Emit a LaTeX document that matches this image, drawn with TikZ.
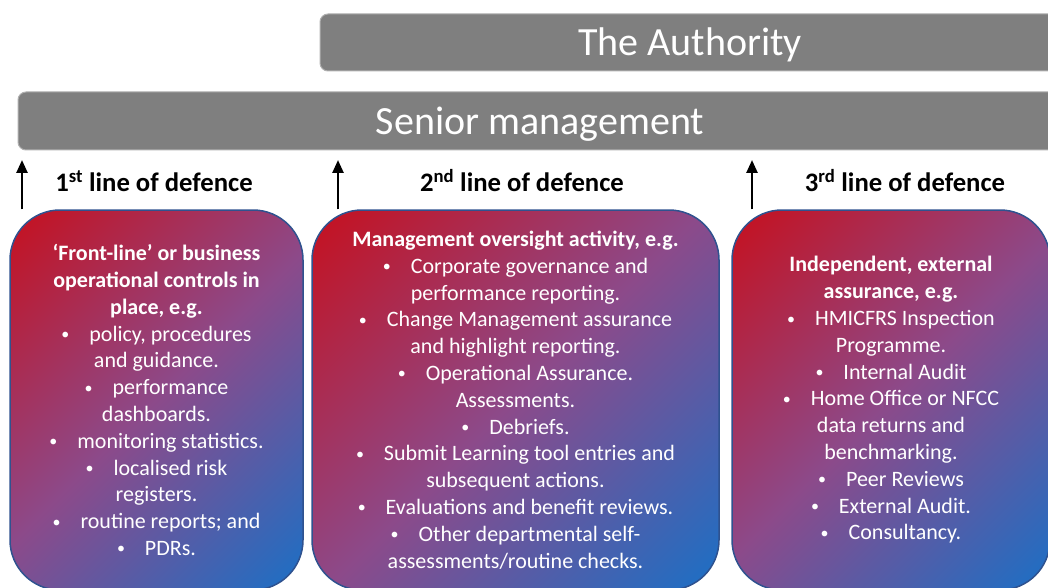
\documentclass[tikz,border=0pt]{standalone}
\usepackage{fontspec}
\setmainfont{Carlito}
\usetikzlibrary{arrows.meta}
\definecolor{barfill}{RGB}{127,127,127}
\definecolor{barline}{RGB}{175,175,175}
\definecolor{boxred}{RGB}{198,16,30}
\definecolor{boxmid}{RGB}{140,74,138}
\definecolor{boxblue}{RGB}{26,112,198}
\definecolor{boxline}{RGB}{47,82,143}
\pgfdeclareverticalshading{defshade}{100bp}{color(0bp)=(boxblue); color(14.6bp)=(boxblue);
  color(50bp)=(boxmid); color(85.4bp)=(boxred); color(100bp)=(boxred)}
\newcommand{\bul}{\raisebox{1.5pt}{\fontsize{16}{16}\selectfont\textbullet}\hspace{20pt}}

\begin{document}
\begin{tikzpicture}[x=1pt,y=-1pt,
  bar/.style={fill=barfill,draw=barline,line width=1pt,rounded corners=8pt,
    text=white,font=\fontsize{40}{44}\selectfont,inner sep=0pt,
    text height=27pt,text depth=0pt},
  defbox/.style={draw=boxline,line width=1.5pt,rounded corners=50pt,
    shading=defshade,shading angle=45,
    text=white,align=center,minimum height=380pt,inner sep=0pt,
    font=\fontsize{22}{26.8}\selectfont},
  heading/.style={font=\bfseries\fontsize{26.7}{30}\selectfont},
  uparrow/.style={-{Triangle[length=13pt,width=11pt]},line width=2.5pt}]
\useasboundingbox (0,0) rectangle (1048,588);
\clip (0,0) rectangle (1048,588);

\node[bar,minimum width=740pt,minimum height=57pt] (auth) at (690,42.5) {The Authority};
\node[bar,minimum width=1044pt,minimum height=58pt] (senior) at (540,121) {Senior management};

\node[heading] (head1) at (154,181) {1\textsuperscript{st} line of defence};
\node[heading] (head2) at (522,181) {2\textsuperscript{nd} line of defence};
\node[heading] (head3) at (905,181) {3\textsuperscript{rd} line of defence};

\node[defbox,minimum width=293pt] (line1) at (156.5,400) {%
  \textbf{‘Front-line’ or business}\\
  \textbf{operational controls in}\\
  \textbf{place, e.g.}\\
  \bul policy, procedures\\
  and guidance.\\
  \bul performance\\
  dashboards.\\
  \bul monitoring statistics.\\
  \bul localised risk\\
  registers.\\
  \bul routine reports; and\\
  \bul PDRs.};
\node[defbox,minimum width=407pt] (line2) at (515.5,400) {%
  \textbf{Management oversight activity, e.g.}\\
  \bul Corporate governance and\\
  performance reporting.\\
  \bul Change Management assurance\\
  and highlight reporting.\\
  \bul Operational Assurance.\\
  Assessments.\\
  \bul Debriefs.\\
  \bul Submit Learning tool entries and\\
  subsequent actions.\\
  \bul Evaluations and benefit reviews.\\
  \bul Other departmental self-\\
  assessments/routine checks.};
\node[defbox,minimum width=318pt] (line3) at (891,400) {%
  \textbf{Independent, external}\\
  \textbf{assurance, e.g.}\\
  \bul HMICFRS Inspection\\
  Programme.\\
  \bul Internal Audit\\
  \bul Home Office or NFCC\\
  data returns and\\
  benchmarking.\\
  \bul Peer Reviews\\
  \bul External Audit.\\
  \bul Consultancy.};

\coordinate (up1) at (22,160);
\coordinate (up2) at (338,160);
\coordinate (up3) at (752,160);
\draw[uparrow] (up1 |- line1.north) -- (up1);
\draw[uparrow] (up2 |- line2.north) -- (up2);
\draw[uparrow] (up3 |- line3.north) -- (up3);
\end{tikzpicture}
\end{document}
